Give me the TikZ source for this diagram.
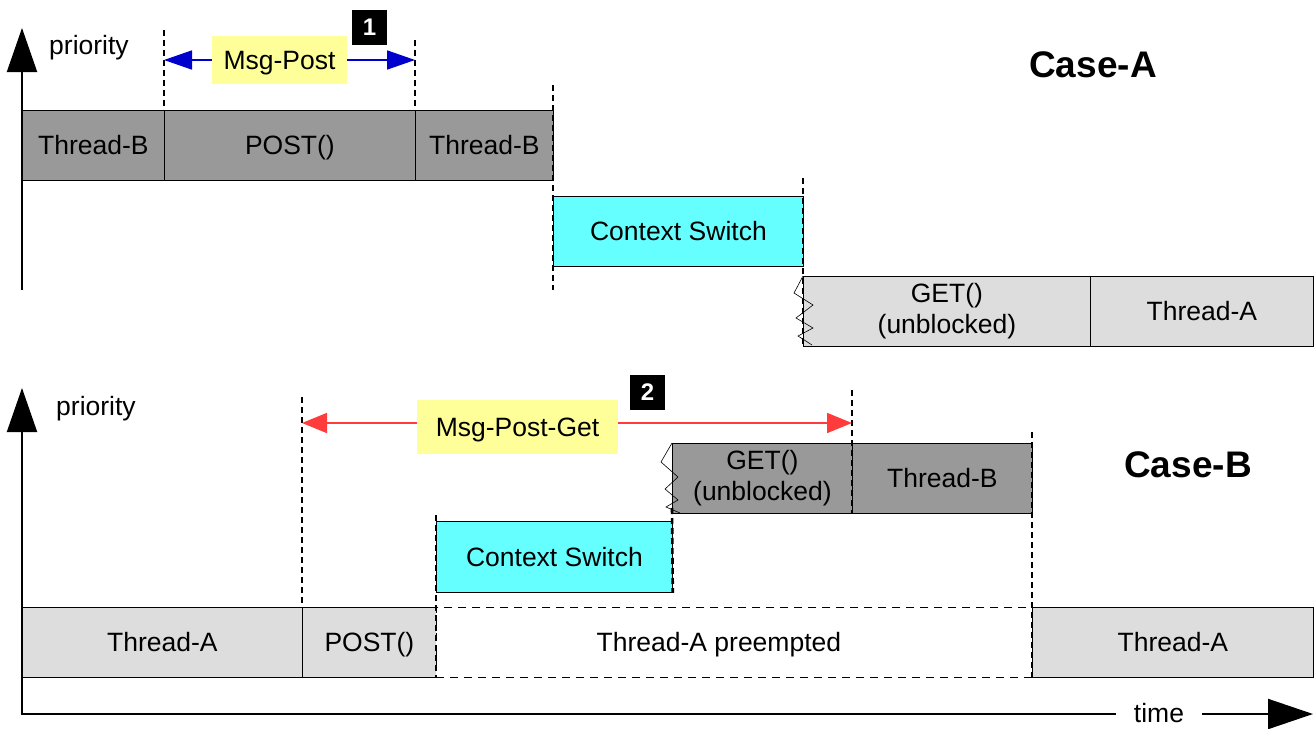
\documentclass[tikz,border=0pt]{standalone}
\usepackage{fontspec}
\setmainfont{Liberation Sans}
\usetikzlibrary{arrows.meta}

\definecolor{darkgrey}{HTML}{999999}
\definecolor{lightgrey}{HTML}{DDDDDD}
\definecolor{cswitch}{HTML}{66FFFF}
\definecolor{tagyellow}{HTML}{FFFF99}
\definecolor{postblue}{HTML}{0000CC}
\definecolor{getred}{HTML}{FF3B3B}

% strut that centres capital letters in a box
\newcommand\lnstrut{\rule[-6pt]{0pt}{30.6pt}}

\tikzset{
  txt/.style={font=\fontsize{26.5}{31}\selectfont, text=black},
  segbase/.style={draw=black, line width=0.8pt, minimum height=70pt, anchor=north west,
    inner sep=0pt, align=center, txt,
    execute at begin node=\lnstrut, execute at end node=\lnstrut},
  dk/.style={segbase, fill=darkgrey, minimum width=#1},
  lt/.style={segbase, fill=lightgrey, minimum width=#1},
  cy/.style={segbase, fill=cswitch, minimum width=#1},
  idle/.style={segbase, dash pattern=on 8pt off 6pt, fill=white, minimum width=#1},
  marker/.style={line width=2.6pt, dash pattern=on 6pt off 4pt},
  tag/.style={fill=tagyellow, txt, inner sep=0pt, minimum height=48pt,
    execute at begin node=\lnstrut},
  badge/.style={fill=black, text=white, font=\fontsize{24}{26}\selectfont\bfseries,
    minimum size=35pt, inner sep=0pt},
  casename/.style={font=\fontsize{37}{40}\selectfont\bfseries},
  axis/.style={line width=2pt},
  zig/.style={line width=0.6pt},
}

\begin{document}
\begin{tikzpicture}[x=1pt,y=-1pt]
\useasboundingbox[fill=white] (0,0) rectangle (1314,728);

% ---------------- Case A ----------------
\coordinate (aBase) at (22,290);
\coordinate (aTip) at (22,28);
\draw[axis, -{Triangle[length=44pt,width=30pt]}] (aBase) -- (aTip);
\node[txt] (aPrio) at (89,48) {priority};
\node[casename] (caseA) at (1093,65) {Case-A};

\node[dk=142] (a1) at (22,110) {Thread-B};
\node[dk=251] (a2) at (164,110) {POST()};
\node[dk=138] (a3) at (415,110) {Thread-B};
\node[cy=250] (a4) at (553,196) {Context Switch};
\node[lt=287] (a5) at (803,276) {GET()\\(unblocked)};
\node[lt=223] (a6) at (1090,276) {Thread-A};

% time markers
\draw[marker] (164,30) -- (a2.north west);
\draw[marker] (415,40) -- (a3.north west);
\draw[marker] (553,85) -- (553,290);
\draw[marker] (803,178) -- (a5.south west);

% broken edge of the resumed GET()
\draw[zig] (a5.north west) -- (794,293) -- (813,305) -- (796,318) -- (813,328) -- (798,336) -- (812,345);

% message post interval
\coordinate (mpL) at (164,60);
\coordinate (mpR) at (415,60);
\draw[postblue, line width=1.6pt, {Triangle[length=28pt,width=19pt]}-{Triangle[length=28pt,width=19pt]}] (mpL) -- (mpR);
\node[tag, minimum width=135pt] (mpTag) at (279.5,60) {Msg-Post};
\node[badge] (b1badge) at (369.5,27.5) {1};

% ---------------- Case B ----------------
\coordinate (bTip) at (22,388);
\coordinate (bOrig) at (22,714);
\coordinate (tTip) at (1313,714);
\draw[axis, {Triangle[length=44pt,width=30pt]}-{Triangle[length=45pt,width=30pt]}] (bTip) -- (bOrig) -- (tTip);
\node[txt, fill=white, inner xsep=18pt, inner ysep=2pt] (timeLbl) at (1159,713) {time};
\node[txt] (bPrio) at (96,409) {priority};
\node[casename] (caseB) at (1188,465) {Case-B};

\node[lt=280] (b1) at (22,607) {Thread-A};
\node[lt=134] (b2) at (302,607) {POST()};
\node[idle=596] (b3) at (436,607) {Thread-A preempted\hspace{31pt}};
\node[lt=281] (b4) at (1032,607) {Thread-A};
\node[cy=236, minimum height=71pt] (b5) at (436,521) {Context Switch};
\node[dk=180] (b6) at (672,443) {GET()\\(unblocked)};
\node[dk=180] (b7) at (852,443) {Thread-B};

% time markers
\draw[marker] (302,397) -- (b2.north west);
\draw[marker] (436,515) -- (b3.south west);
\draw[marker] (672,508) -- (b5.south east);
\draw[marker] (852,390) -- (b7.south west);
\draw[marker] (1032,432) -- (b4.south west);

% broken edge of the resumed GET()
\draw[zig] (b6.north west) -- (661,462) -- (678,477) -- (665,489) -- (678,500) -- (666,507) -- (680,513);

% message post-get interval
\coordinate (mgL) at (302,423);
\coordinate (mgR) at (852,423);
\draw[getred, line width=1.6pt, {Triangle[length=25pt,width=20pt]}-{Triangle[length=25pt,width=20pt]}] (mgL) -- (mgR);
\node[tag, minimum width=201pt, minimum height=54pt] (mgTag) at (517.5,427) {Msg-Post-Get};
\node[badge] (b2badge) at (647.5,392.5) {2};
\end{tikzpicture}
\end{document}
